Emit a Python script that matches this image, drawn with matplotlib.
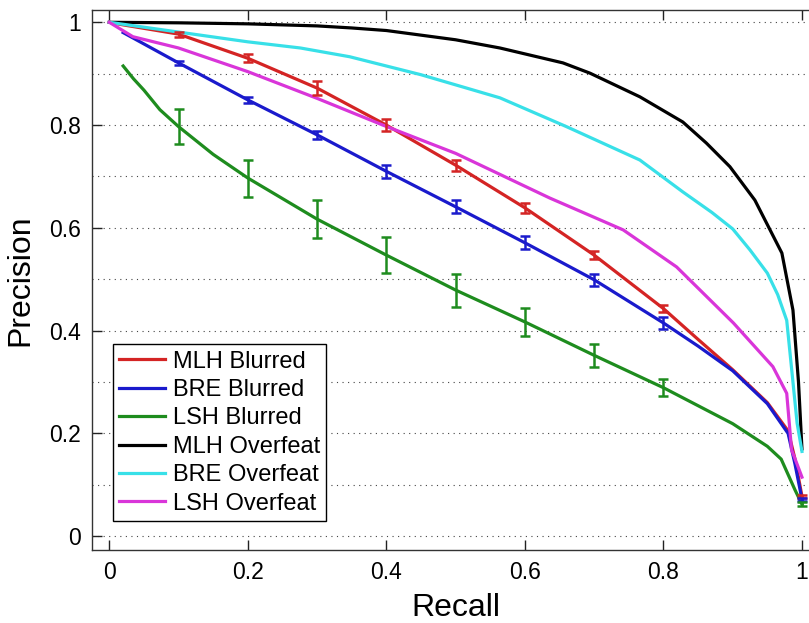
import matplotlib
matplotlib.use("Agg")
import matplotlib.pyplot as plt

plt.rcParams["font.family"] = ["Liberation Sans", "DejaVu Sans"]

# precision / recall curves
mlh_blur_x = [0.0, 0.02, 0.1, 0.2, 0.3, 0.4, 0.5, 0.6, 0.7, 0.8, 0.85, 0.9, 0.95, 0.98, 0.99, 1.0]
mlh_blur_y = [1.0, 0.995, 0.977, 0.930, 0.872, 0.800, 0.722, 0.639, 0.547, 0.443, 0.383, 0.324, 0.260, 0.205, 0.150, 0.078]

bre_blur_x = [0.02, 0.1, 0.2, 0.3, 0.4, 0.5, 0.6, 0.7, 0.8, 0.85, 0.9, 0.95, 0.98, 0.99, 1.0]
bre_blur_y = [0.980, 0.921, 0.849, 0.781, 0.710, 0.641, 0.571, 0.499, 0.415, 0.370, 0.322, 0.258, 0.200, 0.140, 0.072]

lsh_blur_x = [0.02, 0.035, 0.05, 0.073, 0.1, 0.15, 0.2, 0.3, 0.4, 0.5, 0.6, 0.7, 0.8, 0.85, 0.9, 0.95, 0.97, 0.98, 0.99, 1.0]
lsh_blur_y = [0.915, 0.890, 0.868, 0.830, 0.797, 0.743, 0.697, 0.617, 0.547, 0.479, 0.417, 0.352, 0.289, 0.254, 0.219, 0.175, 0.150, 0.120, 0.090, 0.062]

mlh_over_x = [0.0, 0.1, 0.2, 0.3, 0.35, 0.4, 0.5, 0.564, 0.655, 0.694, 0.766, 0.828, 0.862, 0.896, 0.932, 0.971, 0.987, 0.995, 1.0]
mlh_over_y = [1.0, 0.999, 0.997, 0.993, 0.989, 0.984, 0.966, 0.950, 0.921, 0.901, 0.855, 0.806, 0.765, 0.719, 0.654, 0.551, 0.440, 0.300, 0.170]

bre_over_x = [0.0, 0.1, 0.2, 0.276, 0.347, 0.45, 0.564, 0.66, 0.766, 0.828, 0.87, 0.9, 0.925, 0.95, 0.965, 0.978, 0.987, 0.993, 1.0]
bre_over_y = [1.0, 0.981, 0.962, 0.950, 0.933, 0.898, 0.853, 0.797, 0.732, 0.670, 0.630, 0.598, 0.557, 0.512, 0.470, 0.420, 0.300, 0.220, 0.165]

lsh_over_x = [0.0, 0.034, 0.1, 0.2, 0.3, 0.395, 0.5, 0.636, 0.742, 0.819, 0.901, 0.958, 0.978, 0.985, 0.993, 1.0]
lsh_over_y = [1.0, 0.972, 0.950, 0.904, 0.852, 0.800, 0.745, 0.658, 0.596, 0.524, 0.415, 0.330, 0.278, 0.168, 0.140, 0.115]

# error bars on the blurred runs
bar_x = [0.1, 0.2, 0.3, 0.4, 0.5, 0.6, 0.7, 0.8, 1.0]
mlh_bar_y = [0.977, 0.930, 0.872, 0.800, 0.722, 0.639, 0.547, 0.443, 0.078]
mlh_bar_err = [0.005, 0.008, 0.013, 0.012, 0.011, 0.010, 0.0075, 0.0065, 0.003]
bre_bar_y = [0.921, 0.849, 0.781, 0.710, 0.641, 0.571, 0.499, 0.415, 0.072]
bre_bar_err = [0.004, 0.006, 0.0075, 0.012, 0.013, 0.013, 0.012, 0.012, 0.003]
lsh_bar_y = [0.797, 0.697, 0.617, 0.547, 0.479, 0.417, 0.352, 0.289, 0.062]
lsh_bar_err = [0.034, 0.036, 0.037, 0.035, 0.032, 0.028, 0.023, 0.017, 0.004]

x_ticks = [0, 0.2, 0.4, 0.6, 0.8, 1.0]
x_labels = ["0", "0.2", "0.4", "0.6", "0.8", "1"]
y_ticks = [0, 0.2, 0.4, 0.6, 0.8, 1.0]
y_labels = ["0", "0.2", "0.4", "0.6", "0.8", "1"]
grid_y = [0, 0.1, 0.2, 0.3, 0.4, 0.5, 0.6, 0.7, 0.8, 0.9, 1.0]

red = "#d42424"
blue = "#1a1acc"
green = "#1e8c1e"
black = "#000000"
cyan = "#38e0e8"
magenta = "#d935d9"

fig = plt.figure(figsize=(8.09, 6.23), dpi=100)
ax = fig.add_axes([0.1137, 0.117, 0.899, 0.867])

for gy in grid_y:
    ax.axhline(gy, color="#444444", lw=0.8, ls=(0, (1, 4)), zorder=0)

lw = 2.3
ax.plot(mlh_blur_x, mlh_blur_y, color=red, lw=lw, label="MLH Blurred")
ax.plot(bre_blur_x, bre_blur_y, color=blue, lw=lw, label="BRE Blurred")
ax.plot(lsh_blur_x, lsh_blur_y, color=green, lw=lw, label="LSH Blurred")
ax.plot(mlh_over_x, mlh_over_y, color=black, lw=lw, label="MLH Overfeat")
ax.plot(bre_over_x, bre_over_y, color=cyan, lw=lw, label="BRE Overfeat")
ax.plot(lsh_over_x, lsh_over_y, color=magenta, lw=lw, label="LSH Overfeat")

ax.errorbar(bar_x, mlh_bar_y, yerr=mlh_bar_err, fmt="none", ecolor=red, elinewidth=1.8, capsize=3.5, capthick=1.8)
ax.errorbar(bar_x, bre_bar_y, yerr=bre_bar_err, fmt="none", ecolor=blue, elinewidth=1.8, capsize=3.5, capthick=1.8)
ax.errorbar(bar_x, lsh_bar_y, yerr=lsh_bar_err, fmt="none", ecolor=green, elinewidth=1.8, capsize=3.5, capthick=1.8)

ax.set_xlim(-0.025, 1.025)
ax.set_ylim(-0.027, 1.024)
ax.set_xticks(x_ticks)
ax.set_xticklabels(x_labels)
ax.set_yticks(y_ticks)
ax.set_yticklabels(y_labels)
ax.tick_params(direction="in", length=7, width=1, labelsize=16.5,
               top=True, right=True, pad=8, colors="#222222", labelcolor="black")
for sp in ax.spines.values():
    sp.set_linewidth(1)
    sp.set_color("#333333")

ax.set_xlabel("Recall", fontsize=23, labelpad=6)
ax.set_ylabel("Precision", fontsize=23, labelpad=10)

leg = ax.legend(loc="lower left", bbox_to_anchor=(0.029, 0.054), borderaxespad=0,
                fontsize=17, handlelength=1.95, handletextpad=0.3,
                labelspacing=0.27, borderpad=0.27, fancybox=False, framealpha=1)
leg.get_frame().set_edgecolor("black")
leg.get_frame().set_linewidth(1)

fig.savefig("out.png", dpi=100)
